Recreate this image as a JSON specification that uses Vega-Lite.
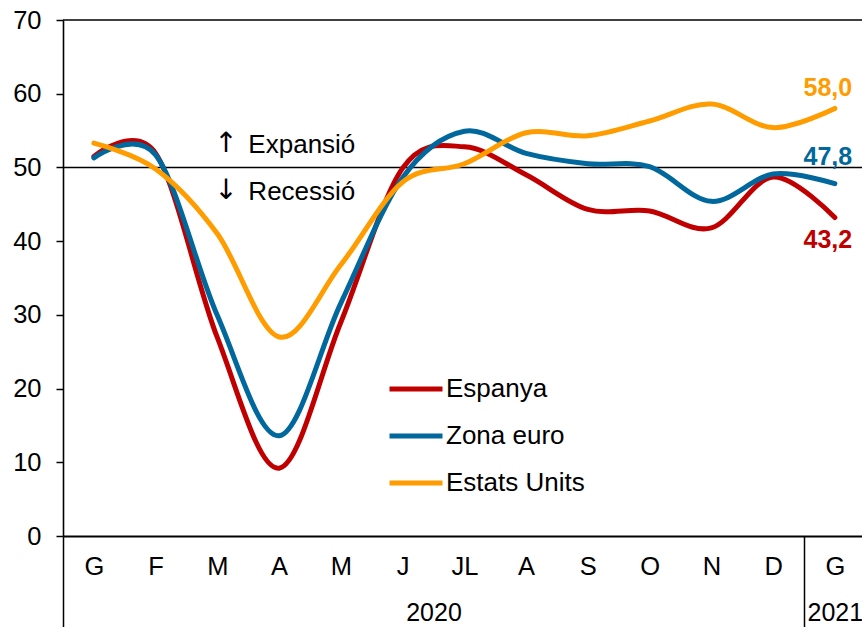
{
  "$schema": "https://vega.github.io/schema/vega-lite/v6.json",
  "width": 799,
  "height": 516,
  "autosize": "none",
  "padding": {"left": 63, "top": 20, "right": 0, "bottom": 91},
  "background": "white",
  "config": {
    "view": {"stroke": null},
    "font": "Liberation Sans",
    "axis": {"labelFont": "Liberation Sans", "labelColor": "#000000", "domainColor": "#000000", "tickColor": "#000000", "grid": false, "title": null},
    "legend": {"rowPadding": 5}
  },
  "datasets": {
    "pmi": [
      {"i": 0, "m": "G", "s": "Espanya", "v": 51.5},
      {"i": 1, "m": "F", "s": "Espanya", "v": 51.9},
      {"i": 2, "m": "M", "s": "Espanya", "v": 26.9},
      {"i": 3, "m": "A", "s": "Espanya", "v": 9.2},
      {"i": 4, "m": "M", "s": "Espanya", "v": 29.0},
      {"i": 5, "m": "J", "s": "Espanya", "v": 49.9},
      {"i": 6, "m": "JL", "s": "Espanya", "v": 52.8},
      {"i": 7, "m": "A", "s": "Espanya", "v": 49.0},
      {"i": 8, "m": "S", "s": "Espanya", "v": 44.3},
      {"i": 9, "m": "O", "s": "Espanya", "v": 44.1},
      {"i": 10, "m": "N", "s": "Espanya", "v": 41.8},
      {"i": 11, "m": "D", "s": "Espanya", "v": 48.7},
      {"i": 12, "m": "G", "s": "Espanya", "v": 43.2},
      {"i": 0, "m": "G", "s": "Zona euro", "v": 51.3},
      {"i": 1, "m": "F", "s": "Zona euro", "v": 51.7},
      {"i": 2, "m": "M", "s": "Zona euro", "v": 29.9},
      {"i": 3, "m": "A", "s": "Zona euro", "v": 13.6},
      {"i": 4, "m": "M", "s": "Zona euro", "v": 31.6},
      {"i": 5, "m": "J", "s": "Zona euro", "v": 48.6},
      {"i": 6, "m": "JL", "s": "Zona euro", "v": 54.9},
      {"i": 7, "m": "A", "s": "Zona euro", "v": 51.9},
      {"i": 8, "m": "S", "s": "Zona euro", "v": 50.5},
      {"i": 9, "m": "O", "s": "Zona euro", "v": 50.1},
      {"i": 10, "m": "N", "s": "Zona euro", "v": 45.4},
      {"i": 11, "m": "D", "s": "Zona euro", "v": 49.1},
      {"i": 12, "m": "G", "s": "Zona euro", "v": 47.8},
      {"i": 0, "m": "G", "s": "Estats Units", "v": 53.3},
      {"i": 1, "m": "F", "s": "Estats Units", "v": 49.8},
      {"i": 2, "m": "M", "s": "Estats Units", "v": 41.0},
      {"i": 3, "m": "A", "s": "Estats Units", "v": 27.0},
      {"i": 4, "m": "M", "s": "Estats Units", "v": 36.8},
      {"i": 5, "m": "J", "s": "Estats Units", "v": 48.0},
      {"i": 6, "m": "JL", "s": "Estats Units", "v": 50.5},
      {"i": 7, "m": "A", "s": "Estats Units", "v": 54.7},
      {"i": 8, "m": "S", "s": "Estats Units", "v": 54.3},
      {"i": 9, "m": "O", "s": "Estats Units", "v": 56.3},
      {"i": 10, "m": "N", "s": "Estats Units", "v": 58.6},
      {"i": 11, "m": "D", "s": "Estats Units", "v": 55.4},
      {"i": 12, "m": "G", "s": "Estats Units", "v": 58.0}
    ]
  },
  "resolve": {"scale": {"x": "shared", "y": "shared", "color": "shared"}, "axis": {"x": "independent"}},
  "layer": [
    {
      "data": {"values": [{"v": 50}, {"v": 70}]},
      "mark": {"type": "rule", "color": "#000000", "strokeWidth": 1.6},
      "encoding": {
        "y": {"field": "v", "type": "quantitative", "scale": {"domain": [0, 70], "nice": false, "zero": true},
          "axis": {"values": [0, 10, 20, 30, 40, 50, 60, 70], "labelFontSize": 25.5, "labelPadding": 15, "tickSize": 7, "tickWidth": 1.5, "domainWidth": 1.6, "title": null}}
      }
    },
    {
      "data": {"name": "pmi"},
      "mark": {"type": "line", "strokeWidth": 5, "interpolate": "cardinal", "strokeCap": "round", "strokeJoin": "round"},
      "encoding": {
        "x": {"field": "i", "type": "quantitative", "scale": {"domain": [-0.5, 12.44], "nice": false, "zero": false},
          "axis": {"orient": "bottom", "values": [0, 1, 2, 3, 4, 5, 6, 7, 8, 9, 10, 11, 12], "labelExpr": "['G','F','M','A','M','J','JL','A','S','O','N','D','G'][datum.value]", "labelFontSize": 25.5, "tickSize": 0, "labelPadding": 18, "labelFlush": false, "labelOverlap": false, "domainWidth": 1.8, "title": null}},
        "y": {"field": "v", "type": "quantitative"},
        "color": {"field": "s", "type": "nominal",
          "scale": {"domain": ["Espanya", "Zona euro", "Estats Units"], "range": ["#C00000", "#00689C", "#FF9C00"]},
          "legend": {"orient": "none", "legendX": 324, "legendY": 340, "title": null, "symbolType": "stroke", "symbolSize": 2809, "symbolStrokeWidth": 5, "labelFontSize": 26, "labelFont": "Liberation Sans", "labelColor": "#000000", "labelOffset": 1, "rowPadding": 5, "labelLimit": 400}},
        "order": {"field": "i", "type": "quantitative"}
      }
    },
    {
      "data": {"values": [
        {"i": 12, "v": 60.8, "t": "58,0", "s": "Estats Units"},
        {"i": 12, "v": 51.4, "t": "47,8", "s": "Zona euro"},
        {"i": 12, "v": 40.2, "t": "43,2", "s": "Espanya"}
      ]},
      "mark": {"type": "text", "fontSize": 25, "fontWeight": "bold", "align": "center", "baseline": "middle", "dx": -7, "font": "Liberation Sans"},
      "encoding": {
        "x": {"field": "i", "type": "quantitative", "axis": null},
        "y": {"field": "v", "type": "quantitative"},
        "text": {"field": "t"},
        "color": {"field": "s", "type": "nominal", "legend": null}
      }
    },
    {
      "data": {"values": [
        {"i": 2, "v": 53.2, "t": "↑"},
        {"i": 2, "v": 46.8, "t": "↓"}
      ]},
      "mark": {"type": "text", "fontSize": 28, "align": "left", "baseline": "middle", "color": "#000000", "font": "DejaVu Sans", "dx": -3},
      "encoding": {
        "x": {"field": "i", "type": "quantitative", "axis": null},
        "y": {"field": "v", "type": "quantitative"},
        "text": {"field": "t"}
      }
    },
    {
      "data": {"values": [
        {"i": 2, "v": 53.1, "t": "Expansió"},
        {"i": 2, "v": 46.7, "t": "Recessió"}
      ]},
      "mark": {"type": "text", "fontSize": 26, "align": "left", "baseline": "middle", "color": "#000000", "font": "Liberation Sans", "dx": 31},
      "encoding": {
        "x": {"field": "i", "type": "quantitative",
          "axis": {"orient": "bottom", "values": [-0.5, 5.5, 11.5, 12], "labelExpr": "datum.value == 5.5 ? '2020' : (datum.value == 12 ? '2021' : '')", "domain": false, "tickSize": 91, "tickWidth": 1.5, "tickOpacity": {"condition": {"test": "datum.value == 5.5 || datum.value == 12", "value": 0}, "value": 1}, "labelPadding": -27, "labelFontSize": 25, "labelFlush": false, "labelOverlap": false, "title": null}},
        "y": {"field": "v", "type": "quantitative"},
        "text": {"field": "t"}
      }
    }
  ]
}
